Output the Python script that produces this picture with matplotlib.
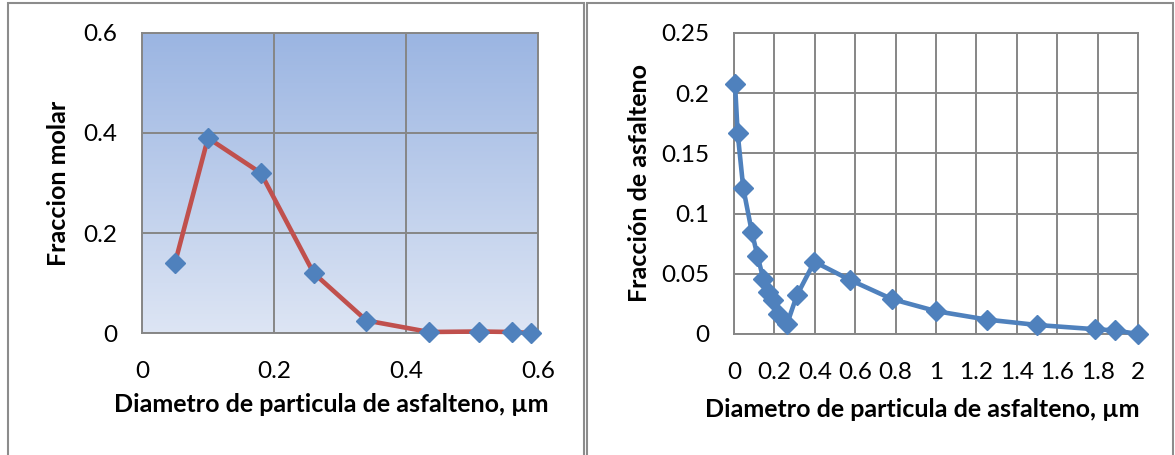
import numpy as np
import matplotlib.pyplot as plt
from matplotlib.patches import Rectangle
from matplotlib.ticker import MultipleLocator, FuncFormatter

# datos: grafico izquierdo (fraccion molar)
d_molar = [0.05, 0.10, 0.18, 0.26, 0.34, 0.435, 0.51, 0.56, 0.59]
f_molar = [0.14, 0.39, 0.32, 0.12, 0.025, 0.002, 0.003, 0.002, 0.0]

# datos: grafico derecho (fraccion de asfalteno)
d_asf = [0.005, 0.018, 0.046, 0.088, 0.116, 0.145, 0.167, 0.192, 0.217, 0.262,
         0.311, 0.398, 0.573, 0.782, 1.0, 1.25, 1.5, 1.785, 1.885, 2.0]
f_asf = [0.208, 0.167, 0.121, 0.085, 0.065, 0.046, 0.035, 0.028, 0.017, 0.008,
         0.032, 0.060, 0.045, 0.029, 0.019, 0.012, 0.0075, 0.004, 0.003, 0.0]

xlabel = 'Diametro de particula de asfalteno, µm'
ylabel_izq = 'Fraccion molar'
ylabel_der = 'Fracción de asfalteno'

plt.rcParams['font.family'] = ['Lato', 'DejaVu Sans']
W, H = 1175, 455
fig = plt.figure(figsize=(W / 100, H / 100), dpi=100, facecolor='white')

gris = '#868686'
azul = '#4f81bd'
rojo = '#c0504d'

# marcos de los dos graficos (se salen por abajo)
for x0, x1 in [(8, 584), (587, 1173)]:
    fig.patches.append(Rectangle((x0 / W, -0.1), (x1 - x0) / W, 1.1 - 3.5 / H,
                                 transform=fig.transFigure, fill=False,
                                 edgecolor='#8c8c8c', lw=1.5, clip_on=False))

fmt = FuncFormatter(lambda v, p: '{:g}'.format(round(v, 3)))


def estilo(ax):
    for s in ax.spines.values():
        s.set_color(gris)
        s.set_linewidth(1.4)
    ax.grid(True, color=gris, lw=1.4)
    ax.set_axisbelow(True)
    ax.tick_params(length=0, labelsize=17.5, pad=18)
    ax.tick_params(axis='x', pad=20)
    ax.xaxis.set_major_formatter(fmt)
    ax.yaxis.set_major_formatter(fmt)


# grafico izquierdo
ax1 = fig.add_axes([142 / W, 1 - 333 / H, 396 / W, 300 / H])
grad = np.linspace(0, 1, 256).reshape(-1, 1)
top = np.array([155, 181, 226]) / 255
bot = np.array([221, 229, 244]) / 255
img = top[None, None, :] * (1 - grad[:, :, None]) + bot[None, None, :] * grad[:, :, None]
ax1.imshow(img, extent=[0, 1, 0, 1], transform=ax1.transAxes, aspect='auto', zorder=-5)
ax1.plot(d_molar, f_molar, color=rojo, lw=3.3, marker='D', ms=10,
         mfc=azul, mec=azul, zorder=3, clip_on=False)
ax1.set_xlim(0, 0.6)
ax1.set_ylim(0, 0.6)
ax1.xaxis.set_major_locator(MultipleLocator(0.2))
ax1.yaxis.set_major_locator(MultipleLocator(0.2))
estilo(ax1)
ax1.set_xlabel(xlabel, fontsize=18, fontweight='bold', va='center')
ax1.xaxis.set_label_coords(0.477, -0.24)
ax1.set_ylabel(ylabel_izq, fontsize=18, fontweight='bold', va='center')
ax1.yaxis.set_label_coords(-0.21, 0.5)

# grafico derecho
ax2 = fig.add_axes([734 / W, 1 - 334 / H, 404 / W, 301 / H])
ax2.plot(d_asf, f_asf, color=azul, lw=3.3, marker='D', ms=10,
         mfc=azul, mec=azul, zorder=3, clip_on=False)
ax2.set_xlim(0, 2)
ax2.set_ylim(0, 0.25)
ax2.xaxis.set_major_locator(MultipleLocator(0.2))
ax2.yaxis.set_major_locator(MultipleLocator(0.05))
estilo(ax2)
ax2.set_xlabel(xlabel, fontsize=18, fontweight='bold', va='center')
ax2.xaxis.set_label_coords(0.465, -0.25)
ax2.set_ylabel(ylabel_der, fontsize=18, fontweight='bold', va='center')
ax2.yaxis.set_label_coords(-0.235, 0.5)

fig.savefig('out.png', dpi=100, facecolor='white')
